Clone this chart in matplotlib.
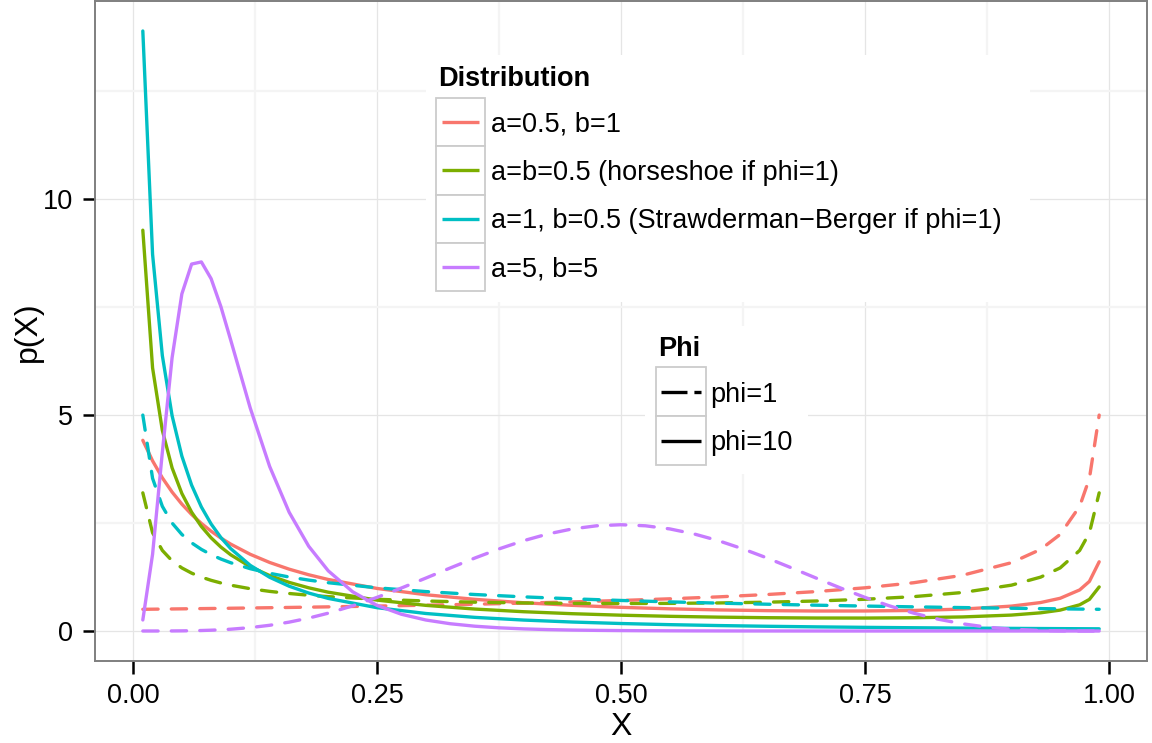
import matplotlib
matplotlib.use('Agg')
import matplotlib.pyplot as plt
from matplotlib.patches import Rectangle

plt.rcParams['font.family'] = ['Liberation Sans', 'DejaVu Sans']
plt.rcParams['lines.scale_dashes'] = False

# shrinkage values (common grid)
x_vals = [0.01, 0.02, 0.03, 0.04, 0.05, 0.06, 0.07, 0.08, 0.09, 0.10,
          0.12, 0.14, 0.16, 0.18, 0.20, 0.25, 0.30, 0.35, 0.40, 0.45,
          0.50, 0.55, 0.60, 0.65, 0.70, 0.75, 0.80, 0.85, 0.90, 0.93,
          0.95, 0.97, 0.98, 0.99]

# a=0.5, b=1
red_phi1 = [0.5025, 0.5051, 0.5077, 0.5103, 0.5130, 0.5157, 0.5185, 0.5213, 0.5241, 0.5270,
            0.5330, 0.5392, 0.5455, 0.5522, 0.5590, 0.5774, 0.5976, 0.6202, 0.6455, 0.6742,
            0.7071, 0.7454, 0.7906, 0.8452, 0.9129, 1.0000, 1.1180, 1.2910, 1.5811, 1.8898,
            2.2361, 2.8868, 3.5355, 5.0000]
red_phi10 = [4.4158, 3.9403, 3.5472, 3.2176, 2.9380, 2.6985, 2.4914, 2.3109, 2.1524, 2.0124,
             1.7768, 1.5869, 1.4314, 1.3020, 1.1931, 0.9854, 0.8397, 0.7336, 0.6543, 0.5941,
             0.5482, 0.5136, 0.4883, 0.4714, 0.4628, 0.4635, 0.4761, 0.5075, 0.5760, 0.6589,
             0.7577, 0.9511, 1.1489, 1.6027]

# a=b=0.5
green_phi1 = [3.1991, 2.2736, 1.8660, 1.6244, 1.4605, 1.3403, 1.2476, 1.1733, 1.1123, 1.0610,
              0.9795, 0.9174, 0.8683, 0.8285, 0.7958, 0.7351, 0.6946, 0.6674, 0.6497, 0.6398,
              0.6366, 0.6398, 0.6497, 0.6674, 0.6946, 0.7351, 0.7958, 0.8915, 1.0610, 1.2476,
              1.4605, 1.8660, 2.2736, 3.1991]
green_phi10 = [9.2813, 6.0931, 4.6462, 3.7770, 3.1852, 2.7523, 2.4203, 2.1571, 1.9433, 1.7659,
               1.4892, 1.2836, 1.1253, 1.0000, 0.8987, 0.7153, 0.5937, 0.5085, 0.4467, 0.4007,
               0.3660, 0.3401, 0.3210, 0.3081, 0.3009, 0.2999, 0.3069, 0.3259, 0.3687, 0.4210,
               0.4836, 0.6064, 0.7322, 1.0208]

# a=1, b=0.5
cyan_phi1 = [5.0000, 3.5355, 2.8868, 2.5000, 2.2361, 2.0412, 1.8898, 1.7678, 1.6667, 1.5811,
             1.4434, 1.3363, 1.2500, 1.1785, 1.1180, 1.0000, 0.9129, 0.8452, 0.7906, 0.7454,
             0.7071, 0.6742, 0.6455, 0.6202, 0.5976, 0.5774, 0.5590, 0.5423, 0.5270, 0.5185,
             0.5130, 0.5077, 0.5051, 0.5025]
cyan_phi10 = [13.894, 8.722, 6.378, 4.985, 4.050, 3.378, 2.872, 2.478, 2.164, 1.909,
              1.5215, 1.2438, 1.0371, 0.8788, 0.7546, 0.5397, 0.4056, 0.3161, 0.2534, 0.2077,
              0.1734, 0.1469, 0.1261, 0.1094, 0.0958, 0.0846, 0.0753, 0.0674, 0.0607, 0.0572,
              0.0550, 0.0529, 0.0519, 0.0509]

# a=5, b=5 (finer grid, the bump needs it)
x_purple = [0.01, 0.02, 0.03, 0.04, 0.05, 0.06, 0.07, 0.08, 0.09, 0.10,
            0.12, 0.14, 0.16, 0.18, 0.20, 0.225, 0.25, 0.275, 0.30, 0.325,
            0.35, 0.375, 0.40, 0.425, 0.45, 0.475, 0.50, 0.525, 0.55, 0.575,
            0.60, 0.625, 0.65, 0.675, 0.70, 0.725, 0.75, 0.775, 0.80, 0.825,
            0.85, 0.875, 0.90, 0.93, 0.95, 0.97, 0.98, 0.99]
purple_phi1 = [0.0000, 0.0001, 0.0005, 0.0014, 0.0032, 0.0064, 0.0113, 0.0185, 0.0283, 0.0413,
               0.0783, 0.1324, 0.2056, 0.2990, 0.4129, 0.5825, 0.7787, 0.9955, 1.2252, 1.4591,
               1.6876, 1.9010, 2.0902, 2.2468, 2.3640, 2.4364, 2.4609, 2.4364, 2.3640, 2.2468,
               2.0902, 1.9010, 1.6876, 1.4591, 1.2252, 0.9955, 0.7787, 0.5825, 0.4129, 0.2737,
               0.1665, 0.0902, 0.0413, 0.0113, 0.0032, 0.0005, 0.0001, 0.0000]
purple_phi10 = [0.2556, 1.7764, 4.1388, 6.3283, 7.8060, 8.4967, 8.5465, 8.1577, 7.5108, 6.7418,
                5.1685, 3.8085, 2.7482, 1.9619, 1.3939, 0.9079, 0.5923, 0.3877, 0.2548, 0.1682,
                0.1114, 0.0740, 0.0493, 0.0329, 0.0219, 0.0146, 0.0097, 0.0064, 0.0043, 0.0028,
                0.0018, 0.0011, 0.0007, 0.0004, 0.0003, 0.0001, 0.0001, 0.0, 0.0, 0.0,
                0.0, 0.0, 0.0, 0.0, 0.0, 0.0, 0.0, 0.0]

dist_labels = ['a=0.5, b=1', 'a=b=0.5 (horseshoe if phi=1)',
               'a=1, b=0.5 (Strawderman\u2212Berger if phi=1)', 'a=5, b=5']
dist_colors = ['#F8766D', '#7CAE00', '#00BFC4', '#C77CFF']
phi_labels = ['phi=1', 'phi=10']

x_ticks = [0.0, 0.25, 0.5, 0.75, 1.0]
x_ticklabels = ['0.00', '0.25', '0.50', '0.75', '1.00']
y_ticks = [0, 5, 10]
y_ticklabels = ['0', '5', '10']

series = [
    (x_vals, red_phi1, red_phi10),
    (x_vals, green_phi1, green_phi10),
    (x_vals, cyan_phi1, cyan_phi10),
    (x_purple, purple_phi1, purple_phi10),
]

W, H = 1152, 743
fig = plt.figure(figsize=(W / 100, H / 100), dpi=100)
ax = fig.add_axes([95 / W, (H - 661) / H, 1052 / W, 660 / H])

LW = 2.4
DASH = (11.0, 9.5)
for (xs, y1, y10), col in zip(series, dist_colors):
    ax.plot(xs, y1, color=col, lw=LW, dashes=DASH, dash_capstyle='round',
            solid_joinstyle='round', zorder=3)
    ax.plot(xs, y10, color=col, lw=LW, solid_capstyle='round',
            solid_joinstyle='round', zorder=3)

all_y = red_phi1 + red_phi10 + green_phi1 + green_phi10 + cyan_phi1 + cyan_phi10 + purple_phi1 + purple_phi10
ymin, ymax = min(all_y), max(all_y)
ypad = (ymax - ymin) * 0.05
ax.set_ylim(ymin - ypad, ymax + ypad)
xmin, xmax = min(x_vals), max(x_vals)
xpad = (xmax - xmin) * 0.05
ax.set_xlim(xmin - xpad, xmax + xpad)

ax.set_xticks(x_ticks)
ax.set_xticklabels(x_ticklabels)
ax.set_yticks(y_ticks)
ax.set_yticklabels(y_ticklabels)
ax.set_xticks([0.125, 0.375, 0.625, 0.875], minor=True)
ax.set_yticks([2.5, 7.5, 12.5], minor=True)
ax.tick_params(which='major', length=9, width=1.8, color='black', pad=7.0,
               labelsize=19.5, labelcolor='black')
ax.tick_params(which='minor', length=0)
ax.grid(which='major', color='#E5E5E5', lw=0.9, zorder=0)
ax.grid(which='minor', color='#F4F4F4', lw=1.6, zorder=0)
ax.set_axisbelow(True)
for sp in ax.spines.values():
    sp.set_color('#7F7F7F')
    sp.set_linewidth(1.4)
    sp.set_zorder(4)

fig.text(621 / W, 1 - 735 / H, 'X', fontsize=23, ha='center', va='baseline')
fig.text(43 / W, 1 - 332 / H, 'p(X)', fontsize=23, rotation=90, ha='right', va='center')

# legends drawn in pixel space
ov = fig.add_axes([0, 0, 1, 1], zorder=5)
ov.set_xlim(0, W)
ov.set_ylim(H, 0)
ov.axis('off')

LEG_FS = 19.5
ov.add_patch(Rectangle((426, 55), 604, 247, facecolor='white', edgecolor='none'))
ov.text(438, 85.5, 'Distribution', fontsize=LEG_FS, fontweight='bold', va='baseline')
row_h = 48.3
for i, (lab, col) in enumerate(zip(dist_labels, dist_colors)):
    top = 98 + i * row_h
    mid = top + row_h / 2
    ov.add_patch(Rectangle((436, top), 49, row_h, facecolor='white',
                           edgecolor='#CCCCCC', lw=1.3))
    ov.plot([442, 479], [mid, mid], color=col, lw=LW, solid_capstyle='butt')
    ov.text(491, mid + 9.5, lab, fontsize=LEG_FS, va='baseline')

ov.add_patch(Rectangle((645, 326), 163, 148, facecolor='white', edgecolor='none'))
ov.text(658, 356, 'Phi', fontsize=LEG_FS, fontweight='bold', va='baseline')
for i, lab in enumerate(phi_labels):
    top = 367 + i * 49
    mid = top + 24.5
    ov.add_patch(Rectangle((656, top), 50, 49, facecolor='white',
                           edgecolor='#CCCCCC', lw=1.3))
    if i == 0:
        ov.plot([661, 701], [mid, mid], color='black', lw=LW,
                dashes=(18.7, 5.0, 5.3, 10.0), dash_capstyle='butt')
    else:
        ov.plot([661, 701], [mid, mid], color='black', lw=LW, solid_capstyle='butt')
    ov.text(710, mid + 10, lab, fontsize=LEG_FS, va='baseline')

fig.savefig('out.png', dpi=100)
